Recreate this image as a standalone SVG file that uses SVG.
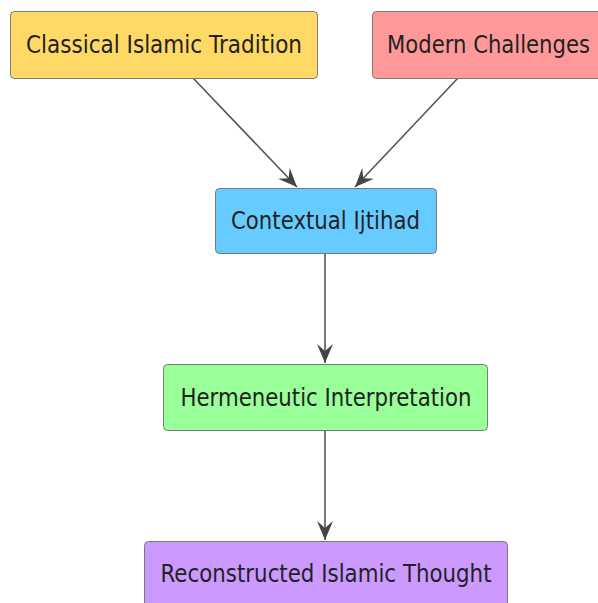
<svg xmlns="http://www.w3.org/2000/svg" width="598" height="603" viewBox="0 0 598 603">
<style>
.box{stroke:#7a7a7a;stroke-width:1}
.lbl{font-family:"DejaVu Sans",sans-serif;font-size:25.5px;fill:#222;text-anchor:middle}
.edge{stroke:#555;stroke-width:1.6;fill:none}
</style>
<defs>
<marker id="ah" markerUnits="userSpaceOnUse" markerWidth="24" markerHeight="20" viewBox="-20 -10 22 20" refX="0" refY="0" orient="auto">
<path d="M0,0 L-19,-8 L-12,0 L-19,8 Z" fill="#444"/>
</marker>
</defs>
<rect width="598" height="603" fill="#fff"/>
<g id="connectors">
<path class="edge" d="M193,78 L297,187" marker-end="url(#ah)"/>
<path class="edge" d="M458,78 L355,187" marker-end="url(#ah)"/>
<path class="edge" d="M325,253 L325,363" marker-end="url(#ah)"/>
<path class="edge" d="M325,431 L325,540" marker-end="url(#ah)"/>
</g>
<g id="classical">
<rect class="box" x="10.5" y="11.5" width="307" height="67" rx="4" fill="#FFD966"/>
<text class="lbl" x="164" y="53" textLength="276" lengthAdjust="spacingAndGlyphs">Classical Islamic Tradition</text>
</g>
<g id="modern">
<rect class="box" x="372.5" y="11.5" width="233" height="67" rx="4" fill="#FF9999"/>
<text class="lbl" x="488.5" y="53" textLength="203" lengthAdjust="spacingAndGlyphs">Modern Challenges</text>
</g>
<g id="contextual">
<rect class="box" x="215.5" y="188.5" width="221" height="65" rx="4" fill="#66CCFF"/>
<text class="lbl" x="325.5" y="228.5" textLength="189" lengthAdjust="spacingAndGlyphs">Contextual Ijtihad</text>
</g>
<g id="hermeneutic">
<rect class="box" x="163.5" y="364.5" width="324" height="66" rx="4" fill="#99FF99"/>
<text class="lbl" x="326" y="405.5" textLength="291" lengthAdjust="spacingAndGlyphs">Hermeneutic Interpretation</text>
</g>
<g id="reconstructed">
<rect class="box" x="144.5" y="541.5" width="363" height="67" rx="4" fill="#CC99FF"/>
<text class="lbl" x="326" y="582" textLength="331" lengthAdjust="spacingAndGlyphs">Reconstructed Islamic Thought</text>
</g>
</svg>
